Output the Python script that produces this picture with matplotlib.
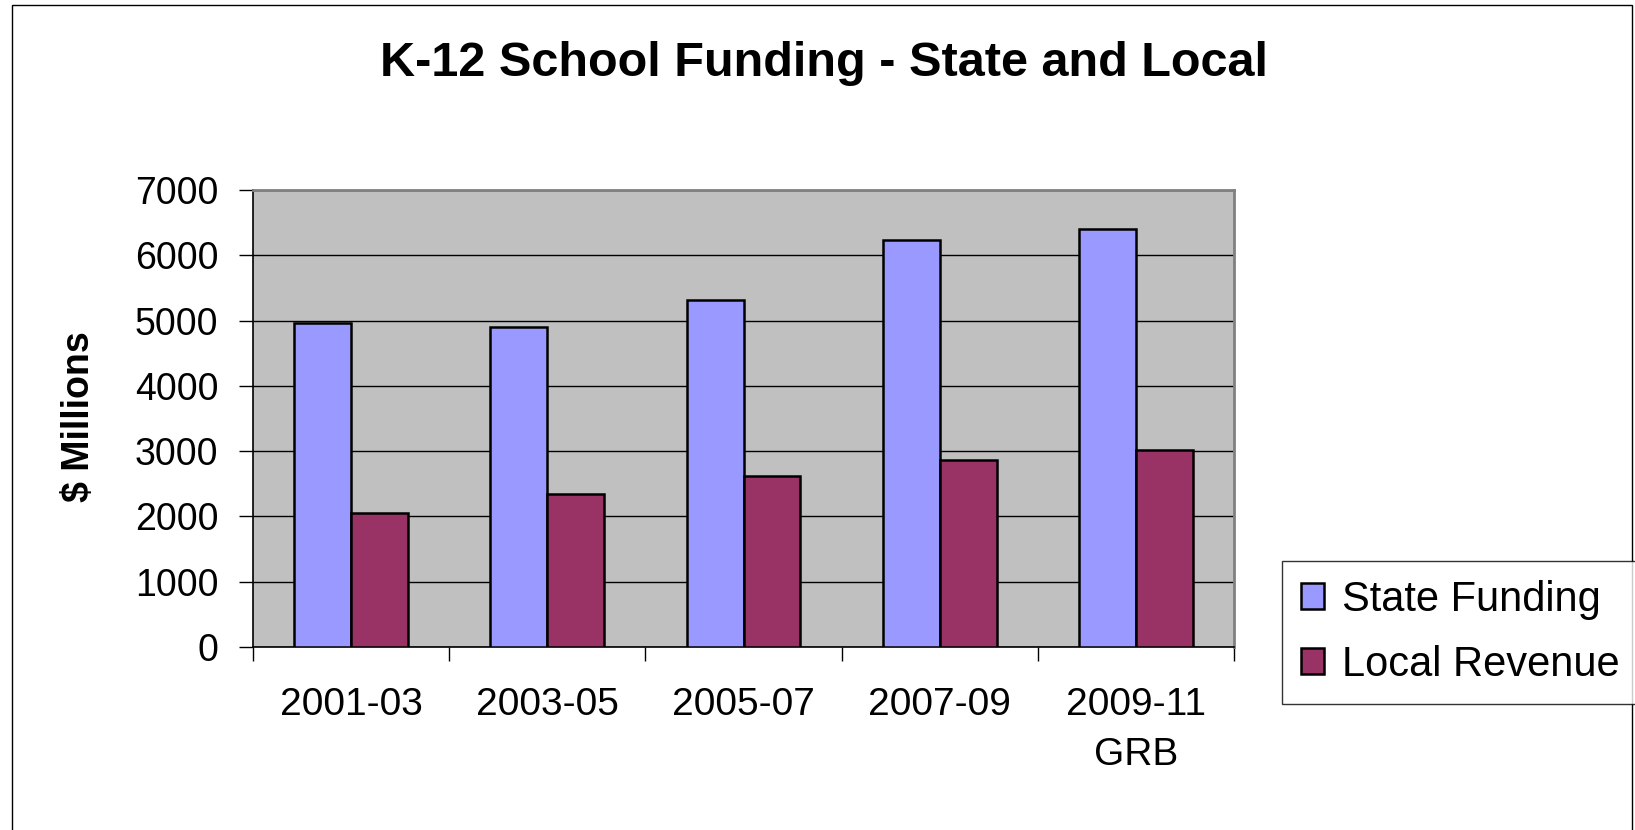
import numpy as np
import matplotlib
matplotlib.use("Agg")
import matplotlib.pyplot as plt
from matplotlib.patches import Rectangle

plt.rcParams['font.family'] = ['Liberation Sans', 'DejaVu Sans']

periods = ["2001-03", "2003-05", "2005-07", "2007-09", "2009-11\nGRB"]
state_funding = [4960, 4905, 5320, 6240, 6395]
local_revenue = [2045, 2350, 2615, 2860, 3025]

W, H = 1635, 830
fig = plt.figure(figsize=(W / 100, H / 100), dpi=100)
ax = fig.add_axes([253 / W, 1 - 647 / H, (1234 - 253) / W, (647 - 190) / H])
ax.set_facecolor("#C0C0C0")

x = np.arange(len(periods))
bw = 0.29
ax.bar(x - bw / 2, state_funding, bw, color="#9999FF", edgecolor="black",
       linewidth=1.8, label="State Funding", zorder=3)
ax.bar(x + bw / 2, local_revenue, bw, color="#993366", edgecolor="black",
       linewidth=1.8, label="Local Revenue", zorder=3)

ax.set_xlim(-0.5, len(periods) - 0.5)
ax.set_ylim(0, 7000)
ax.set_yticks(range(0, 7001, 1000))
ax.yaxis.grid(True, color="black", linewidth=1.0, zorder=1)
ax.set_axisbelow(True)

# category boundaries get the tick marks, labels sit on minor ticks
ax.set_xticks(np.arange(-0.5, len(periods), 1.0))
ax.set_xticklabels([])
ax.set_xticks(x, minor=True)
ax.set_xticklabels(periods, minor=True, fontsize=28, linespacing=1.5)
ax.tick_params(axis="x", which="major", length=10, width=1, direction="out")
ax.tick_params(axis="x", which="minor", length=0, pad=29)
ax.tick_params(axis="y", length=10, width=1, direction="out", labelsize=27, pad=15)

for s in ["left", "bottom"]:
    ax.spines[s].set_color("black")
    ax.spines[s].set_linewidth(1.2)
for s in ["top", "right"]:
    ax.spines[s].set_color("#808080")
    ax.spines[s].set_linewidth(2)

fig.text(824 / W, 1 - 63 / H, "K-12 School Funding - State and Local",
         ha="center", va="center", fontsize=35, fontweight="bold")
fig.text(79 / W, 1 - 417 / H, "$ Millions", rotation=90, ha="center",
         va="center", fontsize=27, fontweight="bold")

leg = fig.legend(loc="upper left", bbox_to_anchor=(1282 / W, 1 - 561 / H),
                 borderaxespad=0, fontsize=30, fancybox=False,
                 handlelength=0.55, handleheight=0.55, handletextpad=0.45,
                 labelspacing=0.6, borderpad=0.45)
leg.get_frame().set_edgecolor("black")
leg.get_frame().set_linewidth(1.0)
for h in leg.legend_handles:
    h.set_linewidth(1.8)

fig.patches.append(Rectangle((12 / W, -0.05), (1632 - 12) / W, 1.05 - 5 / H,
                             transform=fig.transFigure, fill=False,
                             edgecolor="black", linewidth=1.0))

fig.savefig("out.png", dpi=100)
